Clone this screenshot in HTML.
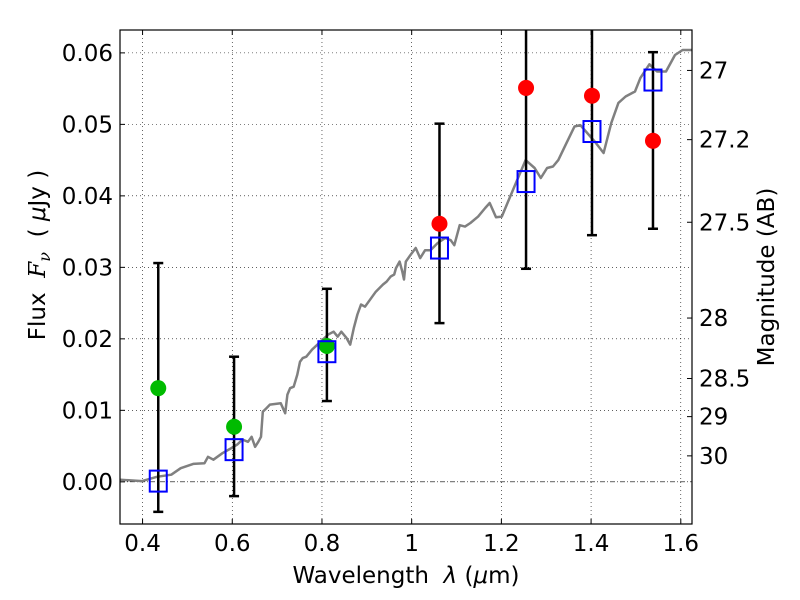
<!DOCTYPE html>
<html><head><meta charset="utf-8"><style>
html,body{margin:0;padding:0;background:#fff;}
svg{display:block;font-family:"DejaVu Sans","Liberation Sans",sans-serif;}
</style></head><body>
<svg id="chart" width="800" height="600" viewBox="0 0 800 600" xmlns="http://www.w3.org/2000/svg">
<defs><clipPath id="plotclip"><rect x="120" y="30" width="572" height="494"/></clipPath></defs>
<rect x="0" y="0" width="800" height="600" fill="#fff"/>
<g id="grid"></g>
<g id="marks" clip-path="url(#plotclip)"></g>
<rect x="120" y="30" width="572" height="494" fill="none" stroke="#000" stroke-width="1.2"/>
<g id="axes"></g>
<text x="406" y="583" font-size="23" text-anchor="middle" xml:space="preserve">Wavelength  <tspan font-style="italic">λ</tspan> (<tspan font-style="italic">μ</tspan>m)</text>
<text transform="translate(45,255) rotate(-90)" font-size="23" text-anchor="middle" xml:space="preserve">Flux  <tspan font-family="DejaVu Serif, serif" font-style="italic">F</tspan><tspan font-family="DejaVu Serif, serif" font-style="italic" font-size="16" dy="5">ν</tspan><tspan dy="-5">  ( </tspan><tspan font-style="italic">μ</tspan>Jy )</text>
<text transform="translate(774,277) rotate(-90)" font-size="23" text-anchor="middle">Magnitude (AB)</text>
</svg>
<script>
const xTicks=[0.4,0.6,0.8,1.0,1.2,1.4,1.6];
const xTickLabels=["0.4","0.6","0.8","1","1.2","1.4","1.6"];
const yTicks=[0,0.01,0.02,0.03,0.04,0.05,0.06];
const yTickLabels=["0.00","0.01","0.02","0.03","0.04","0.05","0.06"];
const magTicks=[27,27.2,27.5,28,28.5,29,30];
const magTickLabels=["27","27.2","27.5","28","28.5","29","30"];
const specWave=[0.350,0.399,0.432,0.464,0.485,0.513,0.538,0.546,0.558,0.578,0.595,0.611,0.623,0.635,0.643,0.651,0.658,0.664,0.668,0.676,0.684,0.708,0.718,0.723,0.729,0.737,0.745,0.751,0.757,0.765,0.778,0.790,0.802,0.814,0.826,0.835,0.843,0.855,0.863,0.871,0.879,0.887,0.896,0.904,0.912,0.920,0.928,0.936,0.944,0.953,0.961,0.965,0.973,0.979,0.983,0.987,0.997,1.009,1.019,1.030,1.042,1.058,1.075,1.087,1.095,1.107,1.119,1.131,1.148,1.164,1.174,1.188,1.201,1.221,1.237,1.254,1.274,1.288,1.302,1.315,1.327,1.343,1.363,1.376,1.408,1.428,1.445,1.461,1.477,1.498,1.510,1.530,1.547,1.567,1.587,1.604,1.626];
const specFlux=[0.0003,0.0001,0.0007,0.0010,0.0019,0.0025,0.0026,0.0035,0.0031,0.0040,0.0046,0.0052,0.0059,0.0056,0.0063,0.0049,0.0056,0.0063,0.0098,0.0103,0.0108,0.0110,0.0096,0.0122,0.0131,0.0133,0.0150,0.0168,0.0173,0.0175,0.0185,0.0192,0.0199,0.0206,0.0210,0.0203,0.0210,0.0201,0.0192,0.0215,0.0234,0.0248,0.0245,0.0252,0.0259,0.0266,0.0271,0.0276,0.0280,0.0287,0.0290,0.0299,0.0308,0.0294,0.0283,0.0308,0.0317,0.0327,0.0313,0.0324,0.0324,0.0334,0.0341,0.0338,0.0331,0.0359,0.0357,0.0362,0.0371,0.0383,0.0390,0.0370,0.0371,0.0401,0.0425,0.0450,0.0439,0.0425,0.0439,0.0441,0.0450,0.0471,0.0497,0.0499,0.0476,0.0460,0.0502,0.0530,0.0539,0.0546,0.0565,0.0584,0.0574,0.0574,0.0597,0.0604,0.0604];
const bandWave=[0.435,0.604,0.811,1.062,1.255,1.402,1.538];
const modelFlux=[0.0001,0.0045,0.0182,0.0327,0.0420,0.0490,0.0562];
const obsFlux=[0.0131,0.0077,0.0190,0.0361,0.0551,0.0540,0.0477];
const obsColor=["#00bb00","#00bb00","#00bb00","#ff0000","#ff0000","#ff0000","#ff0000"];
const errLow=[-0.0042,-0.0020,0.0113,0.0222,0.0298,0.0345,0.0354];
const errHigh=[0.0306,0.0175,0.0270,0.0501,0.0700,0.0700,0.0601];
const capTop=[true,true,true,true,false,false,true];

const L=120,R=692,T=30,B=524;
const xMin=0.3497,xMax=1.6250,yMin=-0.0059,yMax=0.0632;
const X=v=>L+(v-xMin)/(xMax-xMin)*(R-L);
const Y=v=>B-(v-yMin)/(yMax-yMin)*(B-T);
const NS="http://www.w3.org/2000/svg";
function mk(tag,parent){const e=document.createElementNS(NS,tag);parent.appendChild(e);return e;}
const grid=document.getElementById('grid'),marks=document.getElementById('marks'),axes=document.getElementById('axes');

xTicks.forEach((t,i)=>{
  const x=X(t);
  const g=mk('line',grid);g.setAttribute('x1',x);g.setAttribute('x2',x);g.setAttribute('y1',T);g.setAttribute('y2',B);
  g.setAttribute('stroke','#000');g.setAttribute('stroke-width','0.6');g.setAttribute('stroke-dasharray','1,3');
  
  
  [[B,B-5],[T,T+5]].forEach(p=>{const k=mk('line',axes);k.setAttribute('x1',x);k.setAttribute('x2',x);k.setAttribute('y1',p[0]);k.setAttribute('y2',p[1]);k.setAttribute('stroke','#000');
    
    });
  const tx=mk('text',axes);tx.setAttribute('x',x);tx.setAttribute('y',B+27);tx.setAttribute('font-size','23');tx.setAttribute('text-anchor','middle');tx.textContent=xTickLabels[i];
  
  
});
yTicks.forEach((t,i)=>{
  const y=Y(t);
  const g=mk('line',grid);g.setAttribute('x1',L);g.setAttribute('x2',R);g.setAttribute('y1',y);g.setAttribute('y2',y);
  g.setAttribute('stroke','#000');g.setAttribute('stroke-width','0.6');g.setAttribute('stroke-dasharray',t===0?'5,2,1,2':'1,3');
  
  
  const k=mk('line',axes);k.setAttribute('x1',L);k.setAttribute('x2',L+5);k.setAttribute('y1',y);k.setAttribute('y2',y);k.setAttribute('stroke','#000');
  
  
  const tx=mk('text',axes);tx.setAttribute('x',L-7);tx.setAttribute('y',y+8);tx.setAttribute('font-size','23');tx.setAttribute('text-anchor','end');tx.textContent=yTickLabels[i];
  
  
});
magTicks.forEach((m,i)=>{
  const f=Math.pow(10,(23.9-m)/2.5);const y=Y(f);
  const k=mk('line',axes);k.setAttribute('x1',R);k.setAttribute('x2',R-5);k.setAttribute('y1',y);k.setAttribute('y2',y);k.setAttribute('stroke','#000');
  
  
  const tx=mk('text',axes);tx.setAttribute('x',R+7);tx.setAttribute('y',y+8);tx.setAttribute('font-size','23');tx.textContent=magTickLabels[i];
  
  
});
const sp=mk('polyline',marks);
sp.setAttribute('points',specWave.map((w,i)=>X(w).toFixed(1)+','+Y(specFlux[i]).toFixed(1)).join(' '));
sp.setAttribute('fill','none');sp.setAttribute('stroke','#808080');sp.setAttribute('stroke-width','2.5');sp.setAttribute('stroke-linejoin','round');


bandWave.forEach((w,i)=>{
  const x=X(w);
  const e=mk('line',marks);e.setAttribute('x1',x);e.setAttribute('x2',x);e.setAttribute('y1',Y(errLow[i]));e.setAttribute('y2',Y(errHigh[i]));e.setAttribute('stroke','#000');e.setAttribute('stroke-width','2.5');
  
  
  const caps=[errLow[i]];if(capTop[i])caps.push(errHigh[i]);
  caps.forEach(v=>{const c=mk('line',marks);c.setAttribute('x1',x-5);c.setAttribute('x2',x+5);c.setAttribute('y1',Y(v));c.setAttribute('y2',Y(v));c.setAttribute('stroke','#000');c.setAttribute('stroke-width','2.5');
    
    });
});
bandWave.forEach((w,i)=>{
  const c=mk('circle',marks);c.setAttribute('cx',X(w));c.setAttribute('cy',Y(obsFlux[i]));c.setAttribute('r','8');c.setAttribute('fill',obsColor[i]);
  
  
  const s=mk('rect',marks);s.setAttribute('x',X(w)-8.5);s.setAttribute('y',Y(modelFlux[i])-10.5);s.setAttribute('width','17');s.setAttribute('height','21');
  s.setAttribute('fill','none');s.setAttribute('stroke','#0000ff');s.setAttribute('stroke-width','2');
  
  
});
</script>
</body></html>
